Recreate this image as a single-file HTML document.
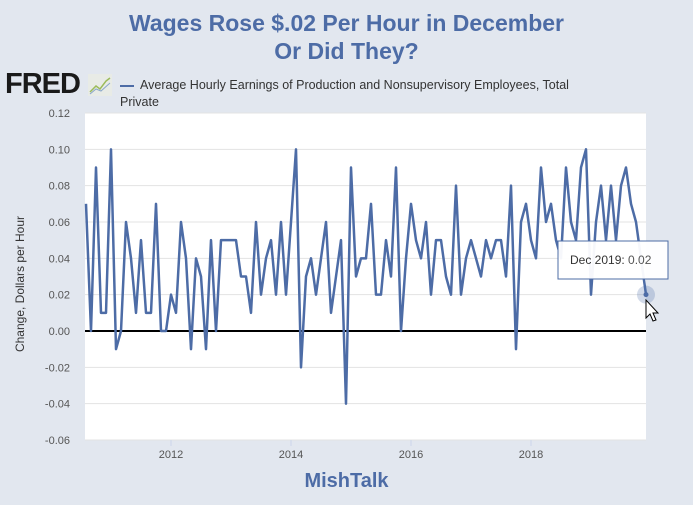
<!DOCTYPE html>
<html><head><meta charset="utf-8"><style>
body{margin:0;width:693px;height:505px;background:#e2e7ef;font-family:"Liberation Sans",sans-serif;overflow:hidden;position:relative}
.t{position:absolute;left:0;width:693px;text-align:center;color:#4d6ca6;font-weight:bold;font-size:23px}
</style></head><body>
<div class="t" style="top:9px;line-height:28px">Wages Rose $.02 Per Hour in December<br>Or Did They?</div>
<div style="position:absolute;left:5px;top:68px;font-weight:900;font-size:29px;letter-spacing:-1px;color:#1a1a1a">FRED</div>
<svg style="position:absolute;left:88px;top:74px" width="24" height="22"><rect width="24" height="22" fill="#e8ebe6"/><polyline points="2,18 8,12 12,15 18,7 22,4" fill="none" stroke="#9bbb5a" stroke-width="1.5"/><polyline points="2,20 8,15 13,17 22,9" fill="none" stroke="#8aa7c9" stroke-width="1"/></svg>
<div style="position:absolute;left:120px;top:77px;font-size:12.5px;color:#333;line-height:17px;width:470px"><span style="display:inline-block;width:14px;height:2px;background:#4d6ca6;vertical-align:middle;margin-right:6px"></span>Average Hourly Earnings of Production and Nonsupervisory Employees, Total Private</div>
<svg id="c" width="693" height="505" style="position:absolute;left:0;top:0"></svg>
<div style="position:absolute;left:-60px;top:277px;width:160px;text-align:center;transform:rotate(-90deg);font-size:12px;color:#333">Change, Dollars per Hour</div>
<div class="t" style="top:470px;font-size:20px">MishTalk</div>
<script>
const values=[0.07,0.00,0.09,0.01,0.01,0.10,-0.01,0.00,0.06,0.04,0.01,0.05,0.01,0.01,0.07,0.00,0.00,0.02,0.01,0.06,0.04,-0.01,0.04,0.03,-0.01,0.05,0.00,0.05,0.05,0.05,0.05,0.03,0.03,0.01,0.06,0.02,0.04,0.05,0.02,0.06,0.02,0.06,0.10,-0.02,0.03,0.04,0.02,0.04,0.06,0.01,0.03,0.05,-0.04,0.09,0.03,0.04,0.04,0.07,0.02,0.02,0.05,0.03,0.09,0.00,0.04,0.07,0.05,0.04,0.06,0.02,0.05,0.05,0.03,0.02,0.08,0.02,0.04,0.05,0.04,0.03,0.05,0.04,0.05,0.05,0.03,0.08,-0.01,0.06,0.07,0.05,0.04,0.09,0.06,0.07,0.05,0.04,0.09,0.06,0.05,0.09,0.10,0.02,0.06,0.08,0.05,0.08,0.05,0.08,0.09,0.07,0.06,0.04,0.02];
const startYear=2010, startMonth=7; // Aug 2010 (0-based month)
const yTicks=[0.12,0.10,0.08,0.06,0.04,0.02,0.00,-0.02,-0.04,-0.06];
const xTicks=[2012,2014,2016,2018];
const ns="http://www.w3.org/2000/svg",svg=document.getElementById('c');
const L=85,R=646,T=113,B=440;
const y=v=>T+(0.12-v)/0.18*(B-T);
const x=t=>171+(t-2012)*60;
function mk(tag,a,p){const e=document.createElementNS(ns,tag);for(const k in a)e.setAttribute(k,a[k]);(p||svg).appendChild(e);return e;}
const bg=mk('rect',{x:L,y:T,width:R-L,height:B-T,fill:'#fff'});


yTicks.forEach(v=>{
 const g=mk('line',{x1:L,x2:R,y1:y(v),y2:y(v),stroke:v===0?'#000':'#e3e3e3','stroke-width':v===0?2:1});
 
 
 const t=mk('text',{x:70,y:y(v)+4,'text-anchor':'end','font-size':11,fill:'#555','font-family':'Liberation Sans'});
 t.textContent=v.toFixed(2);
 
 
});
xTicks.forEach(v=>{
 const l=mk('line',{x1:x(v),x2:x(v),y1:B,y2:B+6,stroke:'#ccd6eb'});
 
 
 const t=mk('text',{x:x(v),y:B+18,'text-anchor':'middle','font-size':11,fill:'#555','font-family':'Liberation Sans'});
 t.textContent=v;
 
 
});
const pts=values.map((v,i)=>{const m=startMonth+i;return [x(startYear+m/12),y(v)];});
const line=mk('polyline',{points:pts.map(p=>p.join(',')).join(' '),fill:'none',stroke:'#4d6ca6','stroke-width':2.5,'stroke-linejoin':'round'});


const lp=pts[pts.length-1];
const halo=mk('circle',{cx:lp[0],cy:lp[1],r:9,fill:'#4d6ca6','fill-opacity':0.25});


const dot=mk('circle',{cx:lp[0],cy:lp[1],r:2.5,fill:'#4d6ca6'});


const tb=mk('rect',{x:558,y:241,width:110,height:38,fill:'#fff','fill-opacity':0.95,stroke:'#4d6ca6','stroke-width':1});


const tt=mk('text',{x:570,y:264,'font-size':12,fill:'#333','font-family':'Liberation Sans'});
tt.textContent='Dec 2019: ';


const tv=mk('tspan',{fill:'#555'},tt);tv.textContent=values[values.length-1].toFixed(2);
const cur=mk('path',{d:'M646,300 L646,318 L650,314 L653,321 L656,320 L653,313 L658,313 Z',fill:'#fff',stroke:'#000','stroke-width':1});


</script>
</body></html>
